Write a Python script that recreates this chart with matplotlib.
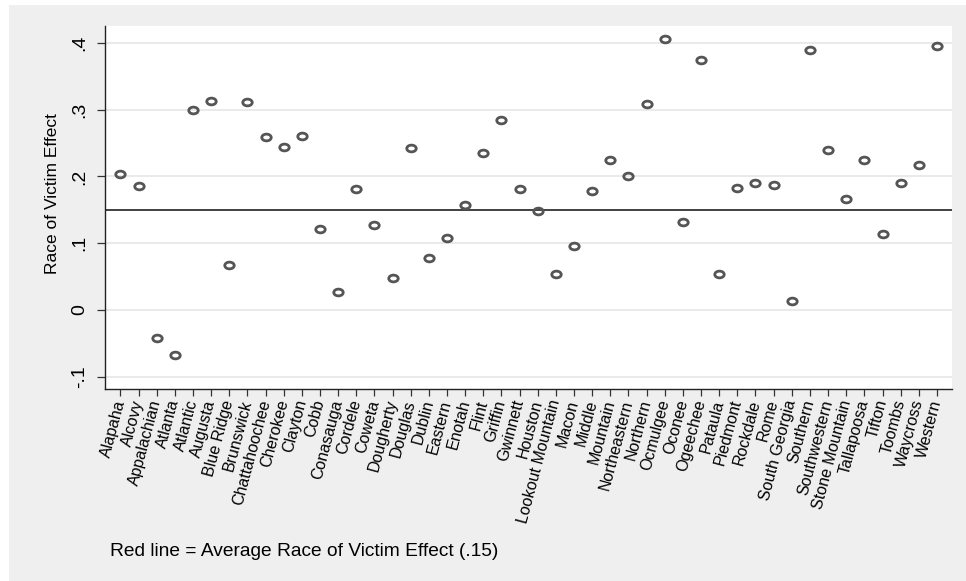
import numpy as np
import matplotlib.pyplot as plt
from matplotlib.path import Path
from matplotlib.patches import Rectangle
from matplotlib.transforms import Affine2D

# Race of victim effect by judicial circuit
circuits = ["Alapaha", "Alcovy", "Appalachian", "Atlanta", "Atlantic", "Augusta",
            "Blue Ridge", "Brunswick", "Chattahoochee", "Cherokee", "Clayton", "Cobb",
            "Conasauga", "Cordele", "Coweta", "Dougherty", "Douglas", "Dublin",
            "Eastern", "Enotah", "Flint", "Griffin", "Gwinnett", "Houston",
            "Lookout Mountain", "Macon", "Middle", "Mountain", "Northeastern", "Northern",
            "Ocmulgee", "Oconee", "Ogeechee", "Pataula", "Piedmont", "Rockdale",
            "Rome", "South Georgia", "Southern", "Southwestern", "Stone Mountain", "Tallapoosa",
            "Tifton", "Toombs", "Waycross", "Western"]
effects = [0.203, 0.186, -0.042, -0.068, 0.299, 0.313,
           0.0675, 0.312, 0.259, 0.244, 0.260, 0.121,
           0.0265, 0.181, 0.128, 0.048, 0.243, 0.0775,
           0.1075, 0.157, 0.235, 0.285, 0.1815, 0.149,
           0.054, 0.096, 0.1775, 0.224, 0.2005, 0.3085,
           0.406, 0.132, 0.374, 0.054, 0.183, 0.1895,
           0.187, 0.0135, 0.390, 0.239, 0.166, 0.224,
           0.1135, 0.1895, 0.2165, 0.396]
avg_effect = 0.15
ytick_vals = [-0.1, 0, 0.1, 0.2, 0.3, 0.4]
ytick_labels = ["-.1", "0", ".1", ".2", ".3", ".4"]

plt.rcParams['font.family'] = ['Liberation Sans', 'DejaVu Sans']

W, H = 966, 581
fig = plt.figure(figsize=(W / 100, H / 100), dpi=100)
fig.patch.set_facecolor('white')
# Stata style grey graph region
fig.patches.append(Rectangle((9 / W, 0), 1, (H - 5) / H, transform=fig.transFigure,
                             facecolor='#efefef', edgecolor='none', zorder=-10))

ax = fig.add_axes([105 / W, 1 - 389 / H, (952 - 105) / W, (389 - 26) / H])
ax.set_facecolor('white')

# wide hollow marker, as in the picture
oval = Path.unit_circle().transformed(Affine2D().scale(1.4, 1.0))

x = np.arange(len(circuits))
ax.axhline(avg_effect, color='#333333', lw=1.3, zorder=2)
ax.plot(x, effects, linestyle='none', marker=oval, markersize=6.8,
        markerfacecolor='none', markeredgecolor='#555555', markeredgewidth=2.0, zorder=3)

ax.set_xlim(-0.85, len(circuits) - 1 + 0.83)
ax.set_ylim(-0.1185, 0.4255)

ax.set_yticks(ytick_vals)
ax.set_yticklabels(ytick_labels, rotation=90, va='center', fontsize=14)
ax.set_xticks(x)
ax.set_xticklabels(circuits, rotation=75, ha='right', va='center',
                   rotation_mode='anchor', fontsize=11.5)
ax.tick_params(axis='y', length=6, width=0.9, color='#333333', pad=6)
ax.tick_params(axis='x', length=5, width=0.9, color='#333333', pad=3)

ax.grid(axis='y', color='#e8e8e8', lw=1.3)
ax.set_axisbelow(True)
for side in ['top', 'right']:
    ax.spines[side].set_visible(False)
for side in ['left', 'bottom']:
    ax.spines[side].set_color('#222222')
    ax.spines[side].set_linewidth(1.0)

fig.text(53 / W, 1 - 194 / H, "Race of Victim Effect", rotation=90,
         ha='center', va='center', fontsize=12.5)
fig.text(110 / W, 1 - 551 / H, "Red line = Average Race of Victim Effect (.15)",
         ha='left', va='center', fontsize=13.8)

fig.savefig('out.png', dpi=100)
